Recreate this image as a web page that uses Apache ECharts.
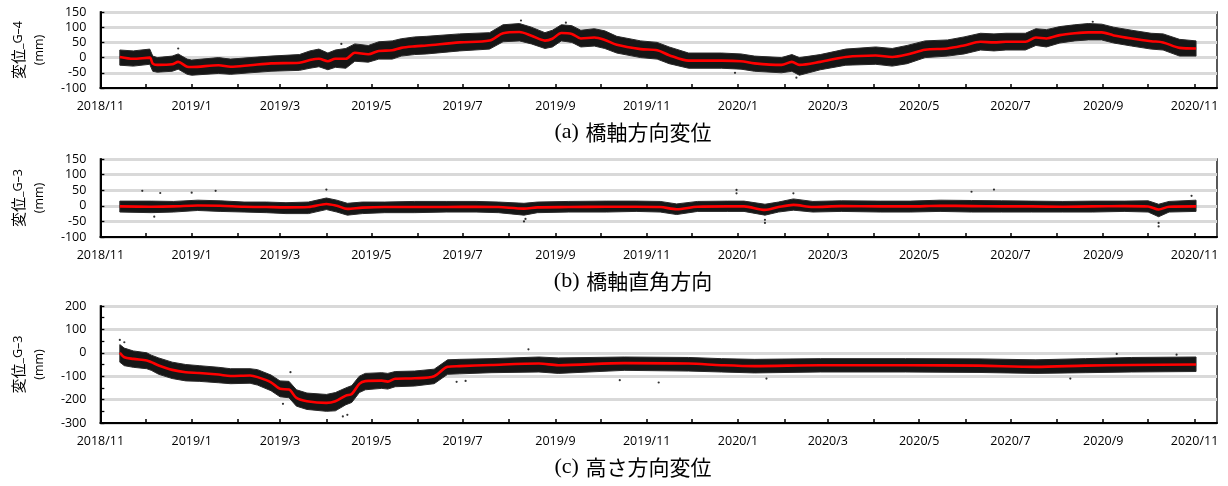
<!DOCTYPE html>
<html>
<head>
<meta charset="utf-8">
<script src="https://cdn.jsdelivr.net/npm/echarts@6/dist/echarts.min.js"></script>
<style>html,body{margin:0;padding:0;background:#fff}#c{width:1228px;height:486px}</style>
</head>
<body>
<div id="c"></div>
<script>
// ---------- x axis tick labels / month ticks ----------
const xLabelMonths = ['2018/11','2019/1','2019/3','2019/5','2019/7','2019/9','2019/11','2020/1','2020/3','2020/5','2020/7','2020/9','2020/11'];
const xTickMonths = ['2018/11','2018/12','2019/1','2019/2','2019/3','2019/4','2019/5','2019/6','2019/7','2019/8','2019/9','2019/10','2019/11','2019/12','2020/1','2020/2','2020/3','2020/4','2020/5','2020/6','2020/7','2020/8','2020/9','2020/10','2020/11'];

// ---------- Panel (a) 橋軸方向変位 ----------
const datesA = ['2018-11-14','2018-11-23','2018-12-04','2018-12-06','2018-12-09','2018-12-19','2018-12-23','2018-12-29','2019-01-01','2019-01-19','2019-01-27','2019-02-09','2019-02-23','2019-03-14','2019-03-21','2019-03-27','2019-04-02','2019-04-07','2019-04-14','2019-04-20','2019-04-29','2019-05-06','2019-05-15','2019-05-21','2019-05-30','2019-06-07','2019-06-29','2019-07-19','2019-07-28','2019-08-08','2019-08-16','2019-08-25','2019-08-30','2019-09-05','2019-09-12','2019-09-18','2019-09-27','2019-10-04','2019-10-12','2019-10-28','2019-11-08','2019-11-16','2019-11-29','2019-12-21','2020-01-03','2020-01-12','2020-01-30','2020-02-06','2020-02-11','2020-02-25','2020-03-13','2020-04-02','2020-04-13','2020-04-23','2020-05-05','2020-05-20','2020-05-31','2020-06-11','2020-06-20','2020-06-28','2020-07-11','2020-07-18','2020-07-25','2020-08-03','2020-08-13','2020-08-22','2020-08-31','2020-09-08','2020-09-20','2020-10-03','2020-10-11','2020-10-22','2020-11-02'];
const lineA = [2,-4,0,-20,-24,-22,-14,-30,-31,-25,-30,-25,-19,-17,-8,-4,-12,-4,-4,16,11,22,24,32,37,40,50,56,80,84,72,56,62,81,78,63,66,58,42,28,24,8,-10,-10,-12,-19,-24,-14,-24,-14,2,7,2,10,26,30,40,52,50,52,52,66,63,74,80,83,83,73,63,54,50,32,30];
const hiA = [25,22,28,5,0,5,12,-5,-8,0,-5,0,5,10,22,28,15,25,30,45,40,52,55,62,68,70,78,82,108,112,100,82,90,108,105,90,95,88,70,55,50,35,15,15,12,5,0,10,0,10,28,35,30,40,55,58,68,80,78,80,80,95,92,102,108,112,110,100,90,80,78,60,55];
const loA = [-25,-28,-22,-45,-48,-45,-38,-55,-58,-52,-55,-50,-45,-42,-35,-30,-40,-32,-35,-12,-15,-5,-5,5,10,12,22,28,52,55,45,30,35,55,50,35,38,30,15,0,-5,-20,-35,-35,-38,-45,-50,-45,-58,-40,-25,-22,-28,-20,0,5,12,25,22,25,25,40,35,48,55,58,58,48,38,28,25,5,5];
const outA = [['2018-12-23',30],['2019-04-11',45],['2019-08-09',122],['2019-09-08',115],['2020-02-09',-66],['2019-12-30',-50],['2020-08-25',118]];

// ---------- Panel (b) 橋軸直角方向 ----------
const datesB = ['2018-11-14','2018-12-05','2018-12-20','2019-01-05','2019-01-20','2019-02-05','2019-02-20','2019-03-05','2019-03-20','2019-04-01','2019-04-08','2019-04-15','2019-04-25','2019-05-10','2019-05-30','2019-06-20','2019-07-10','2019-07-25','2019-08-11','2019-08-20','2019-09-10','2019-10-05','2019-10-25','2019-11-10','2019-11-21','2019-12-05','2019-12-25','2020-01-05','2020-01-19','2020-01-28','2020-02-07','2020-02-20','2020-03-10','2020-04-05','2020-04-25','2020-05-15','2020-06-05','2020-06-25','2020-07-15','2020-08-05','2020-08-25','2020-09-15','2020-10-01','2020-10-08','2020-10-15','2020-11-02'];
const lineB = [-2,-3,-2,1,0,-3,-4,-5,-4,6,0,-10,-6,-4,-4,-4,-3,-4,-9,-5,-4,-3,-3,-4,-11,-3,-2,-2,-13,-4,3,-4,-1,-2,-2,0,-1,-2,-2,-3,-2,-1,-2,-12,-3,-2];
const hiB = [15,15,14,18,16,12,12,10,12,25,18,8,12,12,14,14,14,12,8,12,14,15,15,14,6,14,15,15,5,12,22,14,16,15,15,18,17,16,15,14,15,15,16,5,14,18];
const loB = [-20,-22,-20,-15,-18,-20,-22,-25,-25,-12,-20,-30,-25,-22,-22,-20,-20,-22,-30,-22,-20,-20,-18,-20,-28,-18,-18,-18,-30,-20,-14,-20,-18,-20,-20,-18,-20,-20,-20,-20,-20,-18,-20,-35,-20,-18];
const outB = [['2018-11-29',48],['2018-12-11',41],['2019-01-01',42],['2019-01-17',48],['2019-04-01',52],['2018-12-07',-35],['2019-08-11',-50],['2019-08-12',-42],['2019-12-31',51],['2019-12-31',40],['2020-01-19',-55],['2020-01-19',-45],['2020-02-07',40],['2020-06-05',45],['2020-06-20',52],['2020-10-08',-66],['2020-10-08',-55],['2020-10-30',32]];

// ---------- Panel (c) 高さ方向変位 ----------
const datesC = ['2018-11-14','2018-11-17','2018-11-23','2018-12-02','2018-12-05','2018-12-10','2018-12-19','2018-12-28','2019-01-06','2019-01-19','2019-01-27','2019-02-09','2019-02-14','2019-02-23','2019-03-01','2019-03-07','2019-03-12','2019-03-19','2019-04-01','2019-04-07','2019-04-14','2019-04-18','2019-04-23','2019-04-27','2019-05-08','2019-05-12','2019-05-17','2019-05-30','2019-06-12','2019-06-21','2019-06-29','2019-07-20','2019-08-21','2019-09-03','2019-10-17','2019-11-29','2019-12-21','2020-01-12','2020-02-25','2020-04-22','2020-06-10','2020-07-18','2020-08-20','2020-09-20','2020-11-02'];
const lineC = [0,-19,-26,-33,-40,-54,-73,-83,-86,-93,-99,-97,-104,-126,-154,-157,-193,-207,-214,-207,-183,-176,-133,-121,-119,-123,-111,-109,-100,-60,-57,-52,-46,-53,-44,-46,-53,-57,-53,-53,-55,-60,-55,-52,-50];
const hiC = [35,20,8,0,-10,-22,-40,-50,-55,-62,-68,-68,-72,-95,-120,-122,-158,-172,-178,-170,-150,-140,-100,-88,-85,-88,-80,-78,-70,-30,-28,-25,-18,-22,-18,-20,-25,-28,-25,-25,-26,-30,-25,-20,-18];
const loC = [-40,-55,-62,-68,-75,-92,-110,-120,-122,-128,-132,-130,-138,-162,-188,-192,-228,-242,-250,-248,-222,-212,-170,-158,-152,-155,-145,-142,-132,-92,-90,-85,-82,-88,-75,-78,-82,-86,-82,-82,-84,-88,-85,-82,-80];
const outC = [['2018-11-14',55],['2018-11-17',45],['2019-03-03',-218],['2019-03-08',-83],['2019-04-12',-272],['2019-04-15',-265],['2019-06-27',-124],['2019-07-03',-120],['2019-08-14',15],['2019-10-14',-117],['2019-11-09',-127],['2020-01-20',-110],['2020-08-10',-110],['2020-09-10',-5],['2020-10-20',-8]];

const yTicksA = {min:-100, max:150, interval:50};
const yTicksB = {min:-100, max:150, interval:50};
const yTicksC = {min:-300, max:200, interval:100};

const FONT = 'Open Sans';
const CJK = 'Noto Sans CJK JP';

function t(s){ const p = s.split('-'); return new Date(+p[0], +p[1]-1, +p[2]).getTime(); }
function tm(s){ const p = s.split('/'); return new Date(+p[0], +p[1]-1, 1).getTime(); }
function zip(d, v){ return d.map((x,i)=>[t(x), v[i]]); }
function pts(o){ return o.map(p=>[t(p[0]), p[1]]); }
function fmtMonth(v){ const d = new Date(v); return d.getFullYear()+'/'+(d.getMonth()+1); }

const grids = [
  {left:80, right:11, top:12, height:76},
  {left:80, right:11, top:159, height:78},
  {left:80, right:11, top:306, height:117}
].map(g=>Object.assign(g,{show:true, borderColor:'#000', borderWidth:1.3, backgroundColor:'transparent'}));

function xAx(i){
  return {
    type:'value', gridIndex:i, scale:true,
    min: new Date(2018,10,1).getTime(), max: new Date(2020,10,16).getTime(),
    axisLine:{show:true, onZero:false, lineStyle:{color:'#000', width:2}},
    axisTick:{show:true, inside:true, length:4, lineStyle:{color:'#000', width:1.5},
      customValues: xTickMonths.map(tm)},
    splitLine:{show:false},
    axisLabel:{
      color:'#000', fontFamily:FONT, fontSize:12.5, margin:12,
      customValues: xLabelMonths.slice(1).map(tm),
      hideOverlap:false,
      formatter: fmtMonth
    }
  };
}
function yAx(i, tk, nm, minor){
  return {
    type:'value', gridIndex:i, min:tk.min, max:tk.max, interval:tk.interval,
    name:'{a|変位}{b|_' + nm + '}\n{b|(mm)}', nameLocation:'middle', nameRotate:90, nameGap:36,
    nameTextStyle:{color:'#000', lineHeight:21, align:'center',
      rich:{a:{fontFamily:CJK, fontSize:15, color:'#000', lineHeight:21}, b:{fontFamily:FONT, fontSize:12.5, color:'#000', lineHeight:21}}},
    axisLine:{show:true, lineStyle:{color:'#000', width:2}},
    axisTick:{show:true, inside:true, length:4, lineStyle:{color:'#000', width:1.3}},
    minorTick: minor ? {show:true, splitNumber:2, length:4, lineStyle:{color:'#000', width:1.3}} : {show:false},
    splitLine:{show:true, lineStyle:{color:'#d9d9d9', width:3}},
    axisLabel:{color:'#000', fontFamily:FONT, fontSize:12.5, margin:14}
  };
}

// first month label at the axis start, placed through the axis scale (centred on its tick)
function firstLabelSeries(i, tk){
  return {
    type:'custom', xAxisIndex:i, yAxisIndex:i, silent:true, clip:false, z:5,
    data:[[tm(xLabelMonths[0]), tk.min]],
    renderItem:function(params, api){
      const c = api.coord([api.value(0), api.value(1)]);
      return {type:'text', x:c[0], y:c[1] + 12,
        style:{text:xLabelMonths[0], fill:'#000', font:'12.5px "Open Sans"', align:'center', verticalAlign:'top'}};
    }
  };
}

function bandSeries(i, dates, hi, lo){
  return {
    type:'custom', xAxisIndex:i, yAxisIndex:i, z:1, silent:true, clip:true,
    data: dates.map((d,k)=>[t(d), lo[k], hi[k]]),
    encode:{x:0, y:[1,2]},
    renderItem:function(params, api){
      if (params.dataIndex !== 0) return null;
      const p = [];
      for (let k=0; k<dates.length; k++) p.push(api.coord([t(dates[k]), hi[k]]));
      for (let k=dates.length-1; k>=0; k--) p.push(api.coord([t(dates[k]), lo[k]]));
      return {type:'polygon', shape:{points:p}, style:{fill:'#161616', stroke:'#2a2a2a', lineWidth:1}};
    }
  };
}

function panelSeries(i, tk, dates, line, hi, lo, out){
  return [
    bandSeries(i, dates, hi, lo),
    {type:'scatter', xAxisIndex:i, yAxisIndex:i, data:pts(out), symbolSize:2.2, itemStyle:{color:'#000'}, z:2, silent:true},
    {type:'line', xAxisIndex:i, yAxisIndex:i, data:zip(dates, line), symbol:'none', smooth:0.3,
     lineStyle:{color:'#ff0000', width:2.6}, z:3, silent:true},
    firstLabelSeries(i, tk)
  ];
}

const titleRich = {
  s:{fontFamily:'Liberation Serif', fontSize:22, color:'#000'},
  j:{fontFamily:CJK, fontSize:21, color:'#000'}
};
function caption(txt, jp, y){
  return {type:'text', x:633, y:y, style:{text:'{s|'+txt+'}  {j|'+jp+'}', rich:titleRich, align:'center', verticalAlign:'middle', fill:'#000'}};
}

const chart = echarts.init(document.getElementById('c'), null, {renderer:'canvas'});
chart.setOption({
  animation:false,
  backgroundColor:'#fff',
  grid:grids,
  xAxis:[xAx(0), xAx(1), xAx(2)],
  yAxis:[yAx(0, yTicksA, 'G–4', false), yAx(1, yTicksB, 'G–3', false), yAx(2, yTicksC, 'G–3', true)],
  series:[].concat(
    panelSeries(0, yTicksA, datesA, lineA, hiA, loA, outA),
    panelSeries(1, yTicksB, datesB, lineB, hiB, loB, outB),
    panelSeries(2, yTicksC, datesC, lineC, hiC, loC, outC)
  ),
  graphic:[
    caption('(a)', '橋軸方向変位', 132),
    caption('(b)', '橋軸直角方向', 281),
    caption('(c)', '高さ方向変位', 467)
  ]
});
</script>
</body>
</html>
